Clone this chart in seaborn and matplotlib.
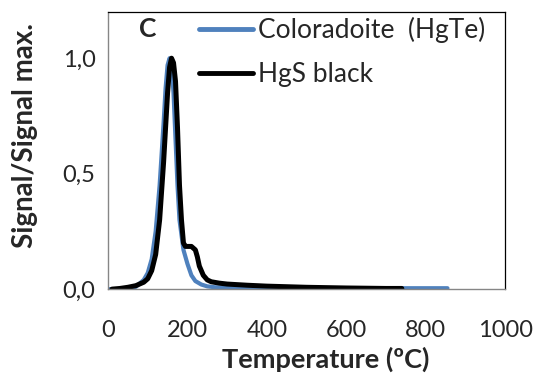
import numpy as np
import pandas as pd
import matplotlib
matplotlib.use("Agg")
import matplotlib.pyplot as plt
import seaborn as sns

# HgTe (Coloradoite) thermal desorption curve
temp_hgte = [0, 30, 50, 70, 90, 100, 110, 120, 130, 140, 145, 150, 155, 160, 165, 170, 175, 180, 190, 200, 210, 220, 235, 250, 270, 300, 400, 500, 600, 700, 800, 855]
sig_hgte = [0.0, 0.0, 0.002, 0.01, 0.04, 0.07, 0.13, 0.25, 0.45, 0.72, 0.87, 0.97, 1.0, 0.97, 0.85, 0.65, 0.45, 0.3, 0.17, 0.11, 0.06, 0.035, 0.02, 0.012, 0.008, 0.006, 0.005, 0.004, 0.004, 0.004, 0.004, 0.004]

# HgS black thermal desorption curve
temp_hgs = [10, 30, 50, 70, 90, 100, 110, 120, 130, 140, 150, 155, 160, 165, 170, 175, 180, 185, 190, 195, 200, 210, 220, 225, 230, 240, 250, 260, 280, 300, 350, 400, 500, 600, 700, 740]
sig_hgs = [0.0, 0.003, 0.008, 0.015, 0.03, 0.045, 0.08, 0.15, 0.3, 0.55, 0.85, 0.96, 1.0, 0.98, 0.9, 0.7, 0.45, 0.3, 0.2, 0.185, 0.185, 0.185, 0.17, 0.14, 0.1, 0.06, 0.04, 0.032, 0.026, 0.022, 0.017, 0.013, 0.008, 0.005, 0.003, 0.003]

series_names = ["Coloradoite  (HgTe)", "HgS black"]
x_ticks = [0, 200, 400, 600, 800, 1000]
y_ticks = [0.0, 0.5, 1.0]
y_tick_labels = ["0,0", "0,5", "1,0"]

df = pd.concat([
    pd.DataFrame({"T": temp_hgte, "S": sig_hgte, "series": series_names[0]}),
    pd.DataFrame({"T": temp_hgs, "S": sig_hgs, "series": series_names[1]}),
])

sns.set_style("white")
plt.rcParams["font.family"] = ["Lato", "DejaVu Sans"]

fig = plt.figure(figsize=(5.39, 3.76), dpi=100)
ax = fig.add_axes([0.2004, 0.231, 0.7366, 0.737])

palette = {series_names[0]: "#4F81BD", series_names[1]: "#000000"}
sns.lineplot(data=df, x="T", y="S", hue="series", hue_order=series_names,
             palette=palette, ax=ax, sort=False, estimator=None)
lines = ax.get_lines()
lines[0].set_linewidth(3.0)
lines[1].set_linewidth(3.6)
for l in lines[:2]:
    l.set_solid_capstyle("round")
    l.set_solid_joinstyle("round")

ax.set_xlim(0, 1000)
ax.set_ylim(0, 1.2)
ax.set_xticks(x_ticks)
ax.set_xticklabels([str(t) for t in x_ticks], fontsize=17)
ax.set_yticks(y_ticks)
ax.set_yticklabels(y_tick_labels, fontsize=17)
ax.tick_params(axis="both", direction="out", length=5, color="#868686", width=1)
ax.tick_params(axis="y", pad=4)
ax.tick_params(axis="x", pad=17)

for s in ["left", "bottom"]:
    ax.spines[s].set_color("#868686")
    ax.spines[s].set_linewidth(1)
for s in ["top", "right"]:
    ax.spines[s].set_color("#000000")
    ax.spines[s].set_linewidth(0.9)

ax.set_xlabel("Temperature (ºC)", fontsize=19.5, fontweight="bold")
ax.xaxis.label.set_va("center")
ax.xaxis.set_label_coords(0.547, -0.252)
ax.set_ylabel("Signal/Signal max.", fontsize=20, fontweight="bold")
ax.yaxis.label.set_va("center")
ax.yaxis.set_label_coords(-0.21, 0.556)

ax.text(0.1, 0.94, "C", transform=ax.transAxes, fontsize=19, fontweight="bold",
        ha="center", va="center")

leg = ax.legend(loc="upper left", bbox_to_anchor=(0.202, 1.02), frameon=False,
                fontsize=19, handlelength=2.05, handletextpad=0.2, labelspacing=0.72,
                borderaxespad=0)
for h in leg.get_lines():
    h.set_linewidth(3.5)

fig.savefig("out.png", dpi=100)
